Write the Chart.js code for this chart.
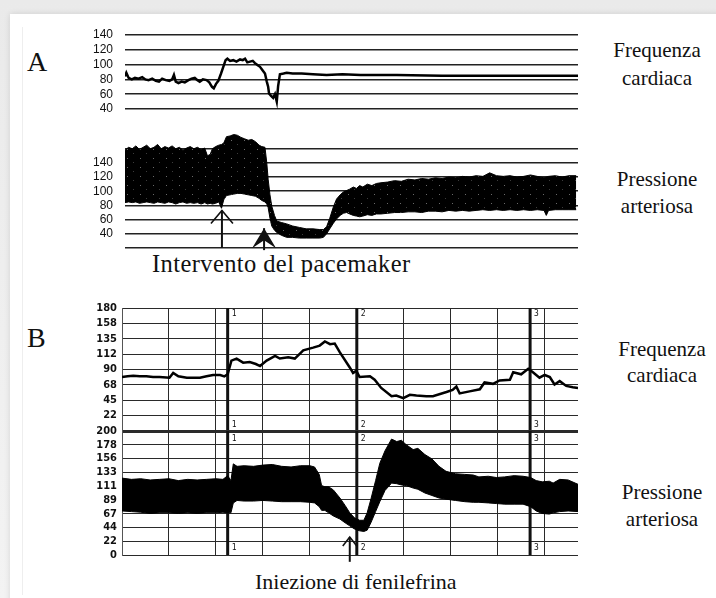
<!DOCTYPE html>
<html>
<head>
<meta charset="utf-8">
<script src="https://cdn.jsdelivr.net/npm/chart.js@4.4.1/dist/chart.umd.min.js"></script>
<style>
  html, body { margin: 0; padding: 0; background: #efefef; }
  #page { position: relative; width: 716px; height: 598px; overflow: hidden; background: linear-gradient(#eaeaea, #f3f3f3); }
  #card { position: absolute; left: 10px; top: 14px; right: -20px; bottom: -20px; background: #fff; box-shadow: 0 0 6px rgba(0,0,0,0.12); }
  #edge { position: absolute; left: 22px; top: 27px; width: 1px; height: 568px; background: #eeeeee; }
  canvas { position: absolute; }
  .t { position: absolute; font-family: "Liberation Serif", "Times New Roman", serif; color: #111; white-space: nowrap; line-height: 1; }
  .c { width: 200px; text-align: center; font-size: 21px; }
</style>
</head>
<body>
<div id="page">
  <div id="card"></div>
  <div id="edge"></div>

  <div class="t" style="left:27px; top:48px; font-size:28px;">A</div>
  <div class="t" style="left:27px; top:324px; font-size:28px;">B</div>

  <div class="t c" style="left:557px; top:40px;">Frequenza</div>
  <div class="t c" style="left:557px; top:68px;">cardiaca</div>
  <div class="t c" style="left:557px; top:169px;">Pressione</div>
  <div class="t c" style="left:557px; top:196px;">arteriosa</div>

  <div class="t c" style="left:562px; top:339px;">Frequenza</div>
  <div class="t c" style="left:562px; top:365px;">cardiaca</div>
  <div class="t c" style="left:562px; top:482px;">Pressione</div>
  <div class="t c" style="left:562px; top:509px;">arteriosa</div>

  <div class="t" style="left:152px; top:252px; font-size:24.5px; letter-spacing:0.4px;">Intervento del pacemaker</div>
  <div class="t" style="left:255px; top:571px; font-size:22px;">Iniezione di fenilefrina</div>

  <canvas id="aHr" width="497" height="114" style="left:85px; top:15px;"></canvas>
  <canvas id="aBp" width="497" height="157" style="left:85px; top:111px;"></canvas>
  <canvas id="bHr" width="500" height="147" style="left:82px; top:296px;"></canvas>
  <canvas id="bBp" width="500" height="148" style="left:82px; top:419px;"></canvas>
</div>

<script>
// ---- panel A: heart rate ----
const tA = [0,3,8,15,22,30,38,45,52,60,68,75,82,90,98,104,108,112,118,125,132,140,147,154,160,165,172,180,186,192,196,201,206,212,217,222,226,232,239,246,254,260,265,270,276,282,287,293,298,304,309,313,316,318,322,327,331,335,338,342,350,357,370,390,415,445,480,520,563,600,700,800,900,1000];
const hrA = [84,89,82,80,82,81,83,80,79,81,78,77,81,79,78,80,86,77,75,77,76,79,81,82,79,77,80,79,76,70,68,74,78,88,97,106,108,105,106,104,107,106,108,103,104,105,102,99,97,92,88,77,70,61,58,55,60,50,71,87,88,89,88,88,87,86,87,86,86,86,85,85,85,85];
const aHrTicks = [40, 60, 80, 100, 120, 140];

// ---- panel A: arterial pressure ----
const tA2 = [0,8,16,24,32,40,48,56,64,72,80,88,96,104,112,120,128,136,144,152,160,168,176,182,188,193,200,207,213,218,224,232,240,248,256,264,272,280,288,296,302,309,313,316,320,324,330,335,345,357,370,385,400,415,430,438,445,452,460,467,475,482,489,496,504,511,518,525,535,545,555,565,580,595,610,625,640,655,670,685,700,715,730,745,760,775,790,805,820,835,850,865,880,895,910,925,930,935,950,965,980,996];
const sysA = [158,162,160,164,159,162,165,160,162,166,160,163,161,164,160,162,158,161,163,160,162,159,161,150,152,160,163,165,166,168,177,178,180,179,176,174,172,173,170,165,163,162,140,117,95,79,66,58,56,54,51,49,47,47,46,46,50,62,78,89,95,99,101,103,106,104,108,106,110,108,111,112,113,115,114,117,116,118,117,119,118,120,119,121,120,122,121,126,122,121,122,120,121,123,121,119,120,121,122,120,122,122];
const diaA = [84,85,84,85,83,84,85,84,83,85,84,83,85,84,82,84,85,83,84,83,84,82,84,82,83,82,83,85,76,88,94,95,96,97,97,96,95,94,93,90,87,85,82,77,62,51,45,42,38,35,35,34,34,34,34,35,40,47,55,61,66,69,70,68,66,65,64,65,67,66,68,68,69,70,70,71,71,70,72,72,71,73,72,73,72,73,74,73,74,73,74,73,74,73,74,73,66,73,74,74,74,74];
const aBpTicks = [20, 40, 60, 80, 100, 120, 140, 160];
const aBpTickLabels = ['', '40', '60', '80', '100', '120', '140', ''];

// ---- panel B: heart rate ----
const tB = [0,12,24,38,52,66,80,101,109,120,138,152,166,180,194,209,218,225,233,244,258,272,285,294,308,326,336,354,368,386,407,421,432,443,453,464,485,492,499,506,528,538,552,574,584,599,613,627,648,662,691,704,712,719,740,762,772,790,804,826,833,850,865,875,889,900,911,921,932,946,960,971];
const hrB = [79,80,81,80,80,79,79,78,85,80,78,78,78,80,82,82,80,83,103,106,100,101,98,95,103,110,106,108,106,118,122,125,131,127,128,115,93,85,88,79,80,75,63,51,52,48,53,52,51,51,57,60,65,55,58,61,71,69,74,75,86,83,91,86,78,82,79,68,73,66,64,63];
const bHrTicks = [0, 22.5, 45, 67.5, 90, 112.5, 135, 157.5, 180];
const bHrTickLabels = ['', '22', '45', '68', '90', '112', '135', '158', '180'];

// ---- panel B: arterial pressure (systolic / mean / diastolic) ----
const tB2 = [0,20,40,60,80,100,120,140,160,180,200,215,225,232,237,245,260,280,300,320,340,360,380,400,410,420,425,432,440,450,464,475,485,495,506,515,522,530,540,549,560,574,585,595,605,620,630,645,660,675,690,710,730,748,760,780,797,815,835,854,870,882,895,910,918,932,950,971];
const sysB = [124,122,123,121,122,123,120,122,121,122,123,122,128,120,147,143,144,143,145,146,143,142,144,144,142,130,112,110,110,105,92,80,68,60,56,56,68,90,120,148,168,187,183,185,178,170,172,162,155,143,135,131,130,129,126,127,125,126,128,127,125,120,118,119,116,122,121,114];
const meanB = [86,85,84,82,84,83,82,84,83,85,84,87,86,90,102,98,101,102,103,102,102,101,100,100,99,94,84,86,80,75,66,58,51,46,43,42,48,64,84,100,122,137,136,133,132,129,126,120,115,110,106,103,102,100,99,97,96,96,96,95,91,86,83,82,80,88,87,85];
const diaB = [71,70,69,67,68,68,67,68,67,68,68,69,68,68,84,88,87,87,88,87,86,86,86,85,84,78,72,72,68,63,58,52,47,42,39,38,40,52,70,86,104,116,115,113,112,108,106,100,96,92,90,88,86,85,85,84,83,82,82,82,78,71,67,66,68,70,71,70];
const bBpTicks = [0, 22.2, 44.4, 66.7, 88.9, 111.1, 133.3, 155.6, 177.8, 200];
const bBpTickLabels = ['0', '22', '44', '67', '89', '111', '133', '156', '178', '200'];

const bGridX = [100, 200, 300, 400, 500, 600, 700, 800, 900];
const markerT = [225, 500, 869];
const markerNames = ['1', '2', '3'];

// arrows: x value, tail and tip as y values of the panel
const arrowsA = [{ x: 214, from: 20, to: 73, bold: false }, { x: 307, from: 17, to: 48, bold: true }];
const arrowsB = [{ x: 485, from: -11, to: 29, bold: false }];

const pts = (xs, ys) => xs.map((x, i) => ({ x: x, y: ys[i] }));
const sansA = { family: '"Liberation Sans", Arial, sans-serif', size: 12 };
const sansB = { family: '"Liberation Sans Narrow", "DejaVu Sans Condensed", sans-serif', size: 11, weight: 'bold' };

function speckle() {
  const c = document.createElement('canvas');
  c.width = 13; c.height = 9;
  const g = c.getContext('2d');
  g.fillStyle = '#000';
  g.fillRect(0, 0, 13, 9);
  g.fillStyle = '#6a6a6a';
  g.fillRect(3, 2, 1, 1);
  g.fillStyle = '#3c3c3c';
  g.fillRect(9, 6, 1, 1);
  return g.createPattern(c, 'repeat');
}

const arrowPlugin = {
  id: 'arrows',
  afterDatasetsDraw(chart, args, opts) {
    const ctx = chart.ctx, x = chart.scales.x, y = chart.scales.y;
    ctx.save();
    ctx.strokeStyle = '#111';
    ctx.fillStyle = '#111';
    opts.list.forEach(a => {
      const px = x.getPixelForValue(a.x);
      const y0 = y.getPixelForValue(a.to);
      const y1 = y.getPixelForValue(a.from);
      ctx.lineWidth = 2;
      ctx.beginPath();
      ctx.moveTo(px, y1);
      ctx.lineTo(px, y0);
      ctx.stroke();
      ctx.beginPath();
      if (a.bold) {
        ctx.moveTo(px, y0);
        ctx.lineTo(px + 12, y0 + 20);
        ctx.lineTo(px, y0 + 12);
        ctx.lineTo(px - 12, y0 + 20);
        ctx.closePath();
        ctx.fill();
      } else {
        ctx.lineWidth = 1.6;
        ctx.moveTo(px - a.w, y0 + a.h);
        ctx.lineTo(px, y0);
        ctx.lineTo(px + a.w, y0 + a.h);
        ctx.stroke();
      }
    });
    ctx.restore();
  }
};

const markerPlugin = {
  id: 'markers',
  beforeDatasetsDraw(chart, args, opts) {
    const ctx = chart.ctx, area = chart.chartArea, x = chart.scales.x;
    ctx.save();
    ctx.strokeStyle = '#111';
    ctx.fillStyle = '#111';
    ctx.lineWidth = 3;
    ctx.font = '8px "DejaVu Sans Mono", monospace';
    markerT.forEach((t, i) => {
      const px = x.getPixelForValue(t);
      ctx.beginPath();
      ctx.moveTo(px, area.top);
      ctx.lineTo(px, area.bottom);
      ctx.stroke();
      ctx.fillText(markerNames[i], px + 4, area.top + opts.top);
      ctx.fillText(markerNames[i], px + 4, area.bottom - opts.bottom);
    });
    ctx.restore();
  }
};

// tick padding adds to the vertical room the y axis asks for, so the
// layout padding is kept at least that big to pin the plot area
function baseOptions(xMax, pad) {
  return {
    responsive: false,
    animation: false,
    events: [],
    layout: { padding: { top: pad, bottom: pad, left: 0, right: 4 } },
    plugins: { legend: { display: false }, tooltip: { enabled: false } },
    scales: {
      x: { type: 'linear', min: 0, max: xMax, display: false },
      y: {}
    }
  };
}

// A - heart rate
const optAHr = baseOptions(1000, 20);
optAHr.scales.y = {
  min: 40, max: 140,
  afterBuildTicks: s => { s.ticks = aHrTicks.map(v => ({ value: v })); },
  afterFit: s => { s.width = 40; },
  grid: { color: '#222', lineWidth: 1.6, drawTicks: false },
  border: { display: false },
  ticks: { padding: 12, color: '#111', font: sansA, autoSkip: false }
};
new Chart(document.getElementById('aHr'), {
  type: 'line',
  data: { datasets: [{ data: pts(tA, hrA), borderColor: '#000', borderWidth: 2.5, pointRadius: 0, tension: 0 }] },
  options: optAHr
});

// A - arterial pressure
const optABp = baseOptions(1000, 20);
optABp.scales.y = {
  min: 20, max: 185,
  afterBuildTicks: s => { s.ticks = aBpTicks.map(v => ({ value: v })); },
  afterFit: s => { s.width = 40; },
  grid: { color: '#222', lineWidth: 1.6, drawTicks: false },
  border: { display: false },
  ticks: { padding: 12, color: '#111', font: sansA, autoSkip: false, callback: (v, i) => aBpTickLabels[i] }
};
optABp.plugins.arrows = { list: arrowsA.map(a => Object.assign({ w: 11, h: 13 }, a)) };
new Chart(document.getElementById('aBp'), {
  type: 'line',
  data: {
    datasets: [
      { data: pts(tA2, sysA), borderColor: '#000', borderWidth: 1, backgroundColor: speckle(), fill: '+1', pointRadius: 0, tension: 0 },
      { data: pts(tA2, diaA), borderColor: '#000', borderWidth: 1, fill: false, pointRadius: 0, tension: 0 }
    ]
  },
  options: optABp,
  plugins: [arrowPlugin]
});

// B - heart rate
const optBHr = baseOptions(971, 12);
optBHr.scales.x = {
  type: 'linear', min: 0, max: 971,
  afterBuildTicks: s => { s.ticks = bGridX.map(v => ({ value: v })); },
  grid: { color: '#2a2a2a', lineWidth: 1, drawTicks: false },
  border: { display: false },
  ticks: { display: false }
};
optBHr.scales.y = {
  min: 0, max: 180,
  afterBuildTicks: s => { s.ticks = bHrTicks.map(v => ({ value: v })); },
  afterFit: s => { s.width = 40; },
  grid: { color: '#2a2a2a', lineWidth: c => (c.tick && c.tick.value === 0 ? 3 : 1), drawTicks: false },
  border: { display: true, color: '#555', width: 1 },
  ticks: { padding: 5, color: '#111', font: sansB, autoSkip: false, callback: (v, i) => bHrTickLabels[i] }
};
optBHr.plugins.markers = { top: 8, bottom: 4 };
new Chart(document.getElementById('bHr'), {
  type: 'line',
  data: { datasets: [{ data: pts(tB, hrB), borderColor: '#000', borderWidth: 2.5, pointRadius: 0, tension: 0 }] },
  options: optBHr,
  plugins: [markerPlugin]
});

// B - arterial pressure
const optBBp = baseOptions(971, 12);
optBBp.scales.x = {
  type: 'linear', min: 0, max: 971,
  afterBuildTicks: s => { s.ticks = bGridX.map(v => ({ value: v })); },
  grid: { color: '#2a2a2a', lineWidth: 1, drawTicks: false },
  border: { display: false },
  ticks: { display: false }
};
optBBp.scales.y = {
  min: 0, max: 200,
  afterBuildTicks: s => { s.ticks = bBpTicks.map(v => ({ value: v })); },
  afterFit: s => { s.width = 40; },
  grid: { color: '#2a2a2a', lineWidth: c => (c.tick && c.tick.value === 200 ? 3 : 1), drawTicks: false },
  border: { display: true, color: '#555', width: 1 },
  ticks: { padding: 5, color: '#111', font: sansB, autoSkip: false, callback: (v, i) => bBpTickLabels[i] }
};
optBBp.plugins.markers = { top: 10, bottom: 5 };
optBBp.plugins.arrows = { list: arrowsB.map(a => Object.assign({ w: 7, h: 9 }, a)) };
new Chart(document.getElementById('bBp'), {
  type: 'line',
  data: {
    datasets: [
      { data: pts(tB2, sysB), borderColor: '#000', borderWidth: 1, backgroundColor: '#000', fill: '+1', pointRadius: 0, tension: 0 },
      { data: pts(tB2, diaB), borderColor: '#000', borderWidth: 1, fill: false, pointRadius: 0, tension: 0 },
      { data: pts(tB2, meanB), borderColor: '#fff', borderWidth: 1.6, fill: false, pointRadius: 0, tension: 0 }
    ]
  },
  options: optBBp,
  plugins: [markerPlugin, arrowPlugin]
});
</script>
</body>
</html>
